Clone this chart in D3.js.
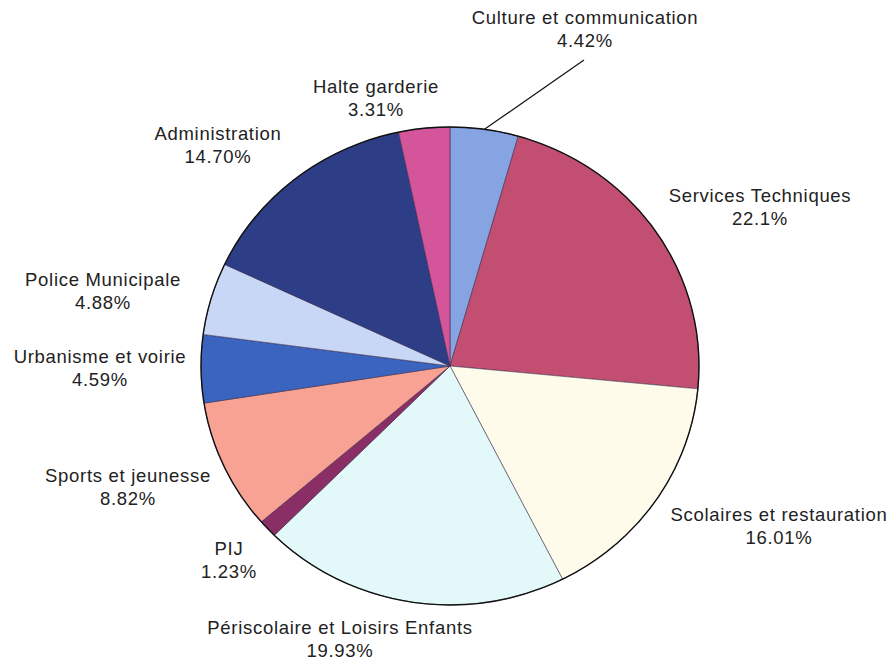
<!DOCTYPE html>
<html>
<head>
<meta charset="utf-8">
<script src="https://cdn.jsdelivr.net/npm/d3@7"></script>
<style>
  html, body { margin: 0; padding: 0; background: #ffffff; }
  svg { display: block; }
  text { font-family: "Liberation Sans", Arial, sans-serif; fill: #222; }
</style>
</head>
<body>
<svg id="chart" width="893" height="663"></svg>
<script>
// ---- data ----
const categories = [
  "Culture et communication",
  "Services Techniques",
  "Scolaires et restauration",
  "Périscolaire et Loisirs Enfants",
  "PIJ",
  "Sports et jeunesse",
  "Urbanisme et voirie",
  "Police Municipale",
  "Administration",
  "Halte garderie"
];
const values = [4.42, 22.1, 16.01, 19.93, 1.23, 8.82, 4.59, 4.88, 14.70, 3.31];
const valueLabels = ["4.42%", "22.1%", "16.01%", "19.93%", "1.23%", "8.82%", "4.59%", "4.88%", "14.70%", "3.31%"];

// ---- styling / layout (kept separate from data) ----
const colors = ["#86a4e2", "#c24f72", "#fffbea", "#e2f8f9", "#8a2f66", "#f8a294",
                "#3b64bf", "#c9d7f6", "#2d3e86", "#d4559a"];
// label anchor (centre x, baseline y of first line) for each slice
const labelPos = [
  [585, 24], [760, 202], [779, 521], [340, 634], [229, 555],
  [128, 482], [100, 363], [103, 286], [218, 140], [376, 93]
];

const svg = d3.select("#chart");
const cx = 450, cy = 366, rx = 249, ry = 239;

const pie = d3.pie().sort(null).value(d => d)
  .startAngle(0).endAngle(2 * Math.PI);
const arcs = pie(values);
const arc = d3.arc().innerRadius(0).outerRadius(rx);

const g = svg.append("g")
  .attr("transform", `translate(${cx},${cy}) scale(1,${ry / rx})`);

g.selectAll("path.slice")
  .data(arcs)
  .join("path")
  .attr("class", "slice")
  .attr("d", arc)
  .attr("fill", (d, i) => colors[i])
  .attr("stroke", "#3a2a4a")
  .attr("stroke-opacity", 0.55)
  .attr("stroke-width", 1)
  .attr("vector-effect", "non-scaling-stroke");

// outer outline
g.append("circle")
  .attr("r", rx)
  .attr("fill", "none")
  .attr("stroke", "#111")
  .attr("stroke-width", 1.4)
  .attr("vector-effect", "non-scaling-stroke");

// leader line for first slice (Culture et communication)
const a0 = arcs[0];
const midA = (a0.startAngle + a0.endAngle) / 2;
const edgeX = cx + rx * Math.sin(midA);
const edgeY = cy - ry * Math.cos(midA);
svg.append("line")
  .attr("x1", edgeX).attr("y1", edgeY)
  .attr("x2", 584).attr("y2", 60)
  .attr("stroke", "#111").attr("stroke-width", 1.2);

// labels
const lbl = svg.append("g")
  .style("font-size", "18.5px")
  .style("letter-spacing", "0.7px");

categories.forEach((c, i) => {
  const [x, y] = labelPos[i];
  const t = lbl.append("text").attr("text-anchor", "middle");
  t.append("tspan").attr("x", x).attr("y", y).text(c);
  t.append("tspan").attr("x", x).attr("y", y + 23).text(valueLabels[i]);
});
</script>
</body>
</html>
